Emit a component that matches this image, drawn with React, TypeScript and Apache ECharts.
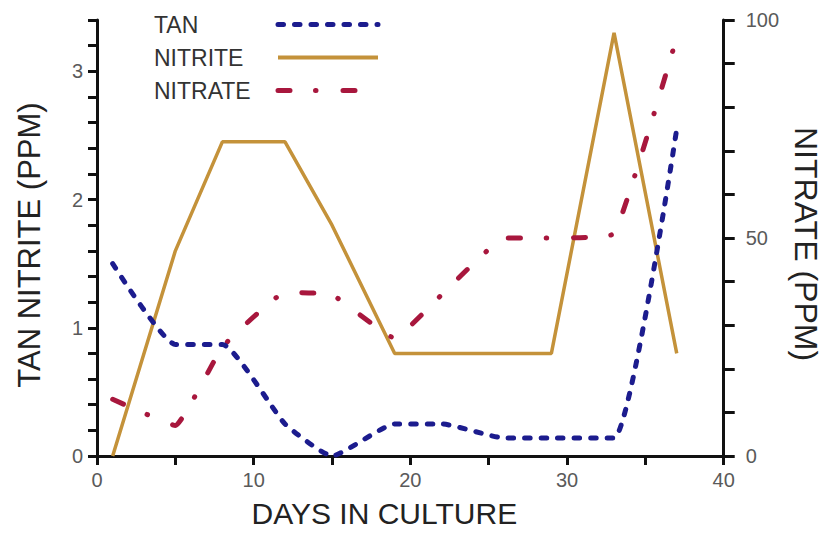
import React, { useEffect, useRef } from "react";
import * as echarts from "echarts";

const days = [1, 5, 8, 12, 15, 19, 22, 26, 29, 33, 37];
const tan = [1.5, 0.87, 0.87, 0.25, 0, 0.25, 0.25, 0.14, 0.14, 0.14, 2.55];
const nitrite = [0, 1.6, 2.45, 2.45, 1.8, 0.8, 0.8, 0.8, 0.8, 3.3, 0.8];
const nitrate = [13, 7, 25, 37.5, 37, 27, 37, 50, 50, 51, 96];

const xTickLabels = [0, 10, 20, 30, 40];
const leftTickLabels = [0, 1, 2, 3];
const rightTickLabels = [0, 50, 100];

const FONT = "'Liberation Sans', Arial, Helvetica, sans-serif";

const isLabel = (v: number, list: number[]) => {
  const r = Math.round(v);
  return Math.abs(v - r) < 1e-6 && list.includes(r);
};

export default function App() {
  const ref = useRef<HTMLDivElement>(null);

  useEffect(() => {
    if (!ref.current) return;
    const chart = echarts.init(ref.current, undefined, { renderer: "svg" });
    const axisLine = { show: true, lineStyle: { color: "#111", width: 3 } };
    const axisTick = { show: true, length: 9, lineStyle: { color: "#111", width: 3 } };
    const labelStyle = { fontSize: 20, color: "#5a5a5a", fontFamily: FONT };
    const nameStyle = { fontSize: 30, color: "#222", fontFamily: FONT };

    chart.setOption({
      animation: false,
      textStyle: { fontFamily: FONT },
      grid: { left: 97, right: 97, top: 20, bottom: 72 },
      legend: {
        orient: "vertical",
        left: 149,
        top: 8,
        align: "right",
        itemWidth: 100,
        itemHeight: 14,
        itemGap: 10,
        selectedMode: false,
        itemStyle: { opacity: 0 },
        formatter: (n: string) => `{a|${n}}`,
        textStyle: {
          fontSize: 23,
          color: "#333",
          fontFamily: FONT,
          rich: { a: { width: 119, align: "left", fontSize: 23, color: "#333", lineHeight: 24, fontFamily: FONT } },
        },
        data: [
          { name: "TAN", lineStyle: { width: 5 } },
          { name: "NITRITE", lineStyle: { width: 4 } },
          { name: "NITRATE", lineStyle: { width: 5 } },
        ],
      },
      xAxis: {
        type: "value",
        min: 0,
        max: 40,
        interval: 5,
        axisLine,
        axisTick,
        splitLine: { show: false },
        axisLabel: {
          ...labelStyle,
          margin: 14,
          formatter: (v: number) => (isLabel(v, xTickLabels) ? String(Math.round(v)) : ""),
        },
        name: "DAYS IN CULTURE",
        nameLocation: "middle",
        nameGap: 42,
        nameTextStyle: { ...nameStyle, padding: [0, 52, 0, 0] },
      },
      yAxis: [
        {
          type: "value",
          position: "left",
          min: 0,
          max: 3.4,
          interval: 0.2,
          axisLine,
          axisTick,
          splitLine: { show: false },
          axisLabel: {
            ...labelStyle,
            margin: 14,
            formatter: (v: number) => (isLabel(v, leftTickLabels) ? String(Math.round(v)) : ""),
          },
          name: "TAN NITRITE (PPM)",
          nameLocation: "middle",
          nameRotate: 90,
          nameGap: 52,
          nameTextStyle: { ...nameStyle, fontSize: 31, padding: [0, 14, 0, 0] },
        },
        {
          type: "value",
          position: "right",
          min: 0,
          max: 100,
          interval: 10,
          axisLine,
          axisTick: { ...axisTick, length: 11 },
          splitLine: { show: false },
          axisLabel: {
            ...labelStyle,
            margin: 22,
            formatter: (v: number) => (isLabel(v, rightTickLabels) ? String(Math.round(v)) : ""),
          },
          name: "NITRATE (PPM)",
          nameLocation: "middle",
          nameRotate: -90,
          nameGap: 35,
          nameTextStyle: { ...nameStyle, fontSize: 32, padding: [0, 0, 0, 12] },
        },
      ],
      series: [
        {
          name: "TAN",
          type: "line",
          yAxisIndex: 0,
          symbol: "none",
          smooth: 0.15,
          data: days.map((d, i) => [d, tan[i]]),
          lineStyle: { color: "#1c1c8e", width: 5, type: [5.5, 11], cap: "round" },
          itemStyle: { color: "#1c1c8e" },
          z: 4,
        },
        {
          name: "NITRITE",
          type: "line",
          yAxisIndex: 0,
          symbol: "none",
          data: days.map((d, i) => [d, nitrite[i]]),
          lineStyle: { color: "#c4923a", width: 3.5 },
          itemStyle: { color: "#c4923a" },
          z: 2,
        },
        {
          name: "NITRATE",
          type: "line",
          yAxisIndex: 1,
          symbol: "none",
          smooth: 0.1,
          data: days.map((d, i) => [d, nitrate[i]]),
          lineStyle: { color: "#a8173d", width: 5, type: [12, 25.5, 0.5, 27], cap: "round" },
          itemStyle: { color: "#a8173d" },
          z: 3,
        },
      ],
    });
    return () => chart.dispose();
  }, []);

  return (
    <div
      ref={ref}
      style={{ position: "fixed", left: 0, top: 0, width: 830, height: 533, background: "#fff" }}
    />
  );
}
